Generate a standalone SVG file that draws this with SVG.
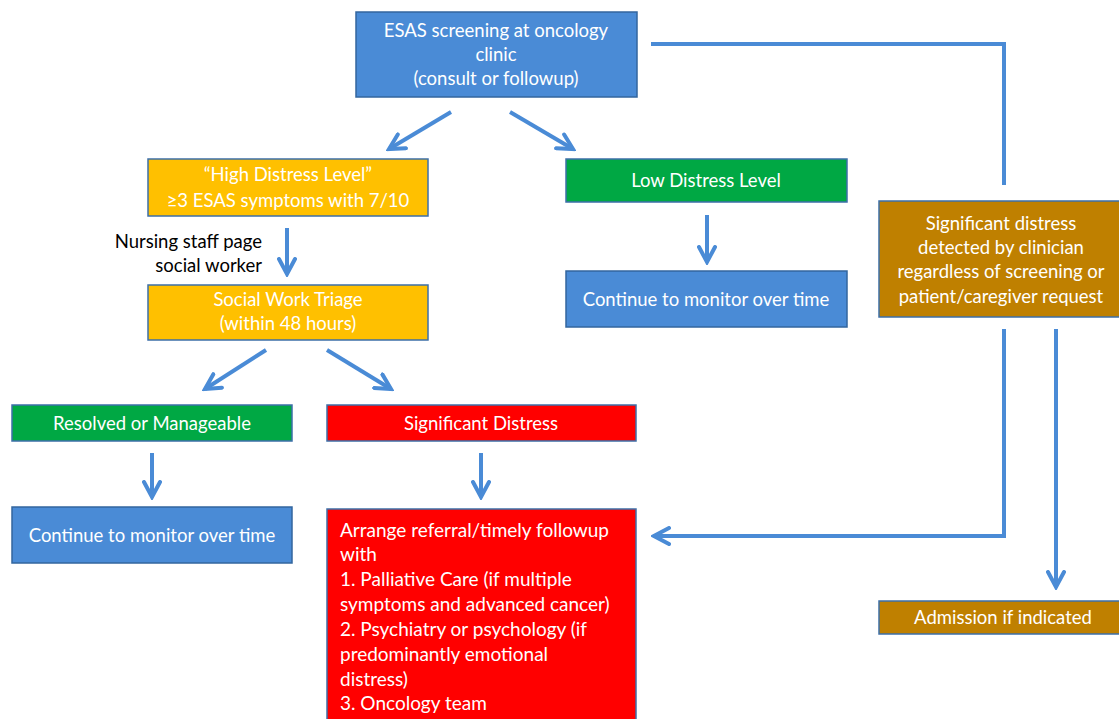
<svg xmlns="http://www.w3.org/2000/svg" width="1119" height="719" viewBox="0 0 1119 719">
<style>
text{font-family:"Lato","Open Sans",sans-serif;font-size:18.5px;fill:#fff;text-anchor:middle}
.blue{fill:#4a8bd6;stroke:#33669e;stroke-width:1.5}
.gold{fill:#ffc000;stroke:#3d6fa8;stroke-width:1.5}
.green{fill:#00a844;stroke:#3d6fa8;stroke-width:1.5}
.red{fill:#ff0000;stroke:#3d6fa8;stroke-width:1.5}
.brown{fill:#bf8000;stroke:#3d6fa8;stroke-width:1.5}
.c{fill:none;stroke:#4a8bd6;stroke-width:4;stroke-linejoin:miter}
.lbl{fill:#000;text-anchor:end}
.left{text-anchor:start;font-size:19px}
</style>
<defs>
<marker id="ah" viewBox="0 0 10 10" refX="8.5" refY="5" markerWidth="5" markerHeight="5" orient="auto" markerUnits="strokeWidth">
<polyline points="1,1 8.5,5 1,9" fill="none" stroke="#4a8bd6" stroke-width="2" stroke-linecap="round"/>
</marker>
</defs>
<g id="connectors">
<line class="c" x1="451" y1="112" x2="389" y2="149" marker-end="url(#ah)"/>
<line class="c" x1="510" y1="112" x2="573" y2="149" marker-end="url(#ah)"/>
<line class="c" x1="287" y1="228" x2="287" y2="274" marker-end="url(#ah)"/>
<line class="c" x1="707" y1="215" x2="707" y2="262" marker-end="url(#ah)"/>
<line class="c" x1="266" y1="350" x2="205" y2="389" marker-end="url(#ah)"/>
<line class="c" x1="327" y1="350" x2="391" y2="389" marker-end="url(#ah)"/>
<line class="c" x1="152" y1="453" x2="152" y2="497" marker-end="url(#ah)"/>
<line class="c" x1="481" y1="453" x2="481" y2="497" marker-end="url(#ah)"/>
<polyline class="c" points="651,44 1004,44 1004,185"/>
<polyline class="c" points="1004,329 1004,536 654,536" marker-end="url(#ah)"/>
<line class="c" x1="1056" y1="329" x2="1056" y2="587" marker-end="url(#ah)"/>
</g>
<g id="n-esas">
<rect class="blue" x="356" y="12" width="281" height="85"/>
<text x="496" y="37">ESAS screening at oncology</text>
<text x="496" y="61">clinic</text>
<text x="496" y="85">(consult or followup)</text>
</g>
<g id="n-high">
<rect class="gold" x="148" y="159" width="280" height="57"/>
<text x="288" y="181">“High Distress Level”</text>
<text x="288" y="207">≥3 ESAS symptoms with 7/10</text>
</g>
<g id="n-low">
<rect class="green" x="566" y="159" width="281" height="43"/>
<text x="706" y="187">Low Distress Level</text>
</g>
<g id="n-cont-right">
<rect class="blue" x="566" y="271" width="281" height="56"/>
<text x="706" y="306">Continue to monitor over time</text>
</g>
<g id="n-label">
<text class="lbl" x="262" y="248">Nursing staff page</text>
<text class="lbl" x="262" y="272">social worker</text>
</g>
<g id="n-triage">
<rect class="gold" x="148" y="285" width="280" height="55"/>
<text x="288" y="306">Social Work Triage</text>
<text x="288" y="330">(within 48 hours)</text>
</g>
<g id="n-resolved">
<rect class="green" x="12" y="405" width="280" height="36"/>
<text x="152" y="430">Resolved or Manageable</text>
</g>
<g id="n-sig">
<rect class="red" x="327" y="405" width="309" height="36"/>
<text x="481" y="430">Significant Distress</text>
</g>
<g id="n-cont-left">
<rect class="blue" x="12" y="507" width="280" height="56"/>
<text x="152" y="542">Continue to monitor over time</text>
</g>
<g id="n-arrange">
<rect class="red" x="327" y="509" width="309" height="215"/>
<text class="left" x="340" y="537">Arrange referral/timely followup</text>
<text class="left" x="340" y="561">with</text>
<text class="left" x="340" y="586">1. Palliative Care (if multiple</text>
<text class="left" x="340" y="611">symptoms and advanced cancer)</text>
<text class="left" x="340" y="636">2. Psychiatry or psychology (if</text>
<text class="left" x="340" y="661">predominantly emotional</text>
<text class="left" x="340" y="686">distress)</text>
<text class="left" x="340" y="710">3. Oncology team</text>
</g>
<g id="n-clinician">
<rect class="brown" x="879" y="201" width="245" height="116"/>
<text x="1001" y="230">Significant distress</text>
<text x="1001" y="254">detected by clinician</text>
<text x="1001" y="278">regardless of screening or</text>
<text x="1001" y="303">patient/caregiver request</text>
</g>
<g id="n-admission">
<rect class="brown" x="879" y="601" width="245" height="33"/>
<text x="1003" y="624">Admission if indicated</text>
</g>
</svg>
